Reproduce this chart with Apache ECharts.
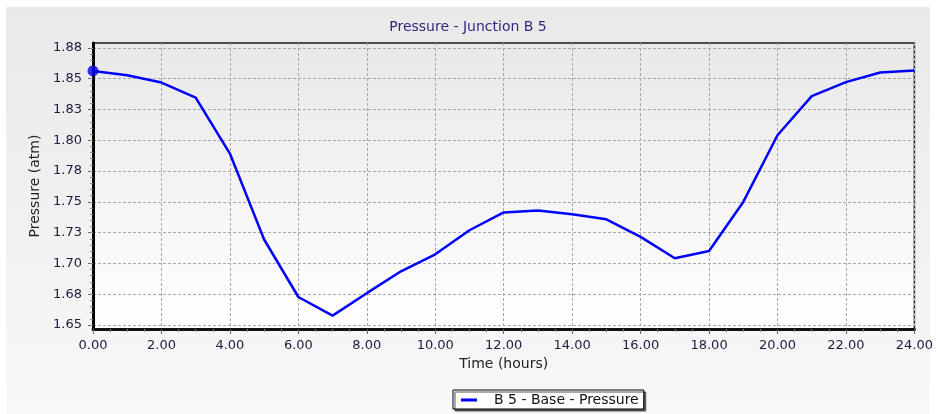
<!DOCTYPE html>
<html>
<head>
<meta charset="utf-8">
<title>Pressure - Junction B 5</title>
<script src="https://cdn.jsdelivr.net/npm/echarts@6/dist/echarts.min.js"></script>
<style>
  html, body { margin: 0; padding: 0; background: #fff; }
  #chart { width: 936px; height: 414px; }
</style>
</head>
<body>
<div id="chart"></div>
<script type="text/javascript">
// hours
var times = [0, 1, 2, 3, 4, 5, 6, 7, 8, 9, 10, 11, 12, 13, 14, 15, 16, 17, 18, 19, 20, 21, 22, 23, 24];
// pressure (atm)
var pressure = [1.8563, 1.8528, 1.8469, 1.8347, 1.7892, 1.7194, 1.6727, 1.6576, 1.6758, 1.6936,
                1.7074, 1.7269, 1.7414, 1.7430, 1.7399, 1.7358, 1.7215, 1.7042, 1.7101, 1.7499,
                1.8041, 1.8358, 1.8472, 1.8550, 1.8567];
var yTicks = [1.65, 1.675, 1.70, 1.725, 1.75, 1.775, 1.80, 1.825, 1.85, 1.875];
var yTickLabels = ['1.65', '1.68', '1.70', '1.73', '1.75', '1.78', '1.80', '1.83', '1.85', '1.88'];
var yMinorTicks = [];
for (var k = 0; k <= 45; k++) { yMinorTicks.push(1.65 + k * 0.005); }

var seriesName = 'B 5 - Base - Pressure';
var font = 'DejaVu Sans';

var chart = echarts.init(document.getElementById('chart'));

var lineData = times.map(function (t, i) { return [t, pressure[i]]; });

var option = {
  backgroundColor: '#ffffff',
  animation: false,
  textStyle: { fontFamily: font },
  graphic: [{
    type: 'rect',
    left: 6, top: 7, z: -10,
    shape: { width: 924, height: 407 },
    style: {
      fill: new echarts.graphic.LinearGradient(0, 0, 0, 1, [
        { offset: 0, color: '#e9e9e9' },
        { offset: 1, color: '#f8f8f8' }
      ])
    }
  }],
  title: {
    text: 'Pressure - Junction B 5',
    left: 'center',
    top: 15,
    textStyle: { fontFamily: font, fontSize: 14, fontWeight: 'normal', color: '#2e2a7e' }
  },
  grid: {
    left: 93, right: 16, top: 43, bottom: 85,
    show: true,
    borderColor: '#1a1a1a',
    borderWidth: 1.5,
    backgroundColor: new echarts.graphic.LinearGradient(0, 0, 0, 1, [
      { offset: 0, color: '#e8e8e8' },
      { offset: 1, color: '#ffffff' }
    ])
  },
  legend: {
    data: [seriesName],
    left: 453, top: 390,
    padding: [3, 5, 2, 8],
    itemWidth: 16, itemHeight: 3,
    icon: 'rect',
    backgroundColor: '#ffffff',
    borderColor: '#000000',
    borderWidth: 1,
    borderRadius: 0,
    shadowColor: '#555555',
    shadowOffsetX: 2, shadowOffsetY: 2, shadowBlur: 0,
    textStyle: { fontFamily: font, fontSize: 14, color: '#111', padding: [0, 0, 0, 12] }
  },
  xAxis: {
    type: 'value',
    min: 0, max: 24, interval: 2,
    name: 'Time (hours)',
    nameLocation: 'middle',
    nameGap: 28,
    nameTextStyle: { fontFamily: font, fontSize: 14, color: '#222' },
    axisLine: { show: true, lineStyle: { color: '#111', width: 3 } },
    axisTick: { show: true, length: 5, lineStyle: { color: '#666', width: 1 } },
    minorTick: { show: true, splitNumber: 4, length: 3, lineStyle: { color: '#888' } },
    axisLabel: {
      margin: 10, fontFamily: font, fontSize: 13, color: '#1c1c3c',
      formatter: function (v) { return v.toFixed(2); }
    },
    splitLine: { show: true, lineStyle: { color: '#a8a8a8', type: [3, 2], width: 1 } }
  },
  yAxis: [{
    type: 'value',
    min: 1.6467, max: 1.879,
    name: 'Pressure (atm)',
    nameLocation: 'middle',
    nameGap: 48,
    nameTextStyle: { fontFamily: font, fontSize: 14, color: '#222' },
    axisLine: { show: true, lineStyle: { color: '#000', width: 3 } },
    axisTick: { show: true, length: 5, customValues: yTicks, lineStyle: { color: '#666', width: 1 } },
    axisLabel: {
      margin: 11, fontFamily: font, fontSize: 13, color: '#1c1c3c',
      customValues: yTicks,
      formatter: function (v) {
        for (var i = 0; i < yTicks.length; i++) {
          if (Math.abs(yTicks[i] - v) < 1e-6) return yTickLabels[i];
        }
        return '';
      }
    },
    splitLine: { show: true, lineStyle: { color: '#a8a8a8', type: [3, 2], width: 1 } }
  }, {
    type: 'value',
    position: 'left',
    min: 1.6467, max: 1.879,
    axisLine: { show: false },
    axisTick: { show: true, length: 3, customValues: yMinorTicks, lineStyle: { color: '#888', width: 1 } },
    axisLabel: { show: false },
    splitLine: { show: false }
  }],
  series: [{
    name: seriesName,
    type: 'line',
    data: lineData,
    yAxisIndex: 0,
    symbol: 'none',
    lineStyle: { color: '#0000ff', width: 2.5 },
    itemStyle: { color: '#0000ff' },
    z: 3
  }, {
    type: 'scatter',
    data: [lineData[0]],
    yAxisIndex: 0,
    symbol: 'circle',
    symbolSize: 11,
    itemStyle: { color: '#0000ee' },
    z: 5
  }]
};

chart.setOption(option);
</script>
</body>
</html>
